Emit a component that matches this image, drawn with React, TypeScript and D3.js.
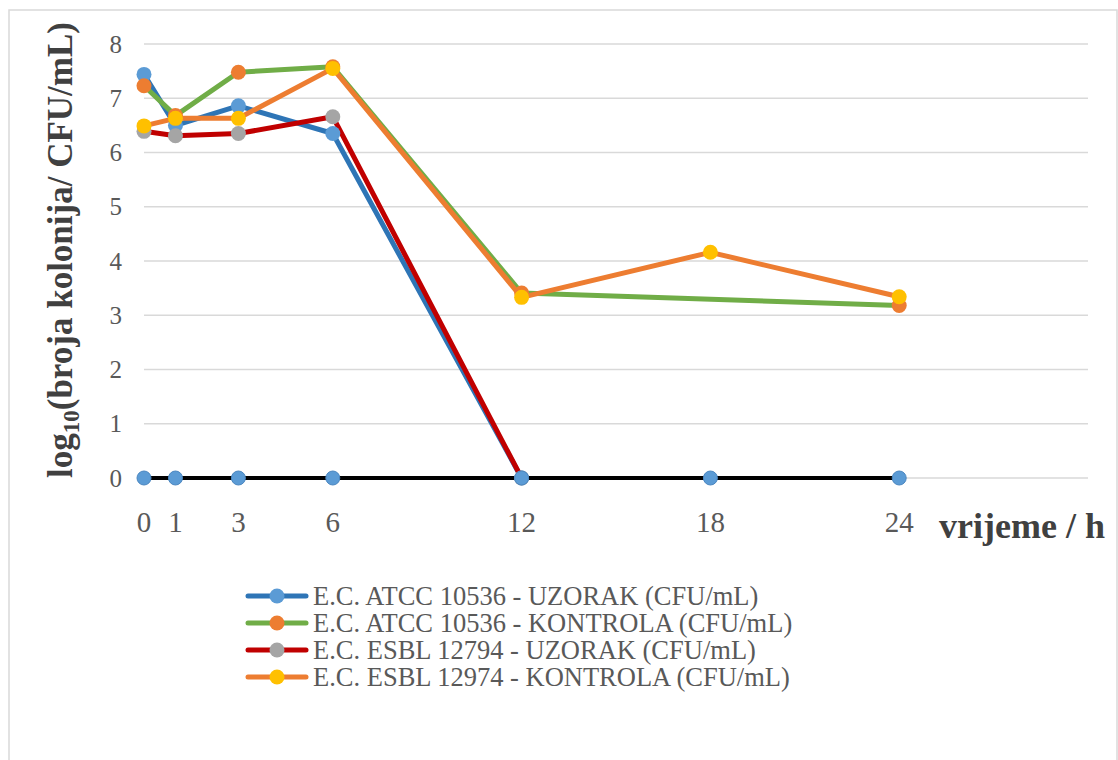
import React from "react";
import * as d3 from "d3";

const hours = [0, 1, 3, 6, 12, 18, 24];
const yTicks = [0, 1, 2, 3, 4, 5, 6, 7, 8];

const atccUzorakX = [0, 1, 3, 6, 12];
const atccUzorakY = [7.44, 6.5, 6.86, 6.35, 0];
const atccKontrolaX = [0, 1, 3, 6, 12, 24];
const atccKontrolaY = [7.23, 6.68, 7.48, 7.58, 3.41, 3.18];
const esblUzorakX = [0, 1, 3, 6, 12];
const esblUzorakY = [6.39, 6.31, 6.35, 6.66, 0];
const esblKontrolaX = [0, 1, 3, 6, 12, 18, 24];
const esblKontrolaY = [6.49, 6.63, 6.63, 7.55, 3.33, 4.16, 3.34];
const baselineX = [0, 1, 3, 6, 12, 18, 24];
const baselineY = [0, 0, 0, 0, 0, 0, 0];

const seriesNames = [
  "E.C. ATCC 10536 - UZORAK (CFU/mL)",
  "E.C. ATCC 10536 - KONTROLA (CFU/mL)",
  "E.C. ESBL 12794 - UZORAK (CFU/mL)",
  "E.C. ESBL 12974 - KONTROLA (CFU/mL)",
];

const series = [
  { name: seriesNames[0], xs: atccUzorakX, ys: atccUzorakY, line: "#2e75b6", marker: "#5b9bd5" },
  { name: seriesNames[1], xs: atccKontrolaX, ys: atccKontrolaY, line: "#70ad47", marker: "#ed7d31" },
  { name: seriesNames[2], xs: esblUzorakX, ys: esblUzorakY, line: "#c00000", marker: "#a5a5a5" },
  { name: seriesNames[3], xs: esblKontrolaX, ys: esblKontrolaY, line: "#ed7d31", marker: "#ffc000" },
];

export default function App() {
  const W = 1118, H = 760;
  const x = d3.scaleLinear().domain([0, 30]).range([144, 1088]);
  const y = d3.scaleLinear().domain([0, 8]).range([478, 44]);
  const line = d3.line<[number, number]>().x((d) => x(d[0])).y((d) => y(d[1]));
  const font = "Liberation Serif";
  const tickColor = "#595959";

  const pts = (xs: number[], ys: number[]) => xs.map((v, i) => [v, ys[i]] as [number, number]);

  return (
    <svg width={W} height={H} style={{ position: "absolute", left: 0, top: 0, background: "#fff" }}>
      <rect x={9} y={10} width={1108} height={760} fill="#fff" stroke="#d9d9d9" strokeWidth={1.5} />
      {yTicks.map((t) => (
        <g key={t}>
          <line x1={x(0)} x2={x(30)} y1={y(t)} y2={y(t)} stroke="#d9d9d9" strokeWidth={1.5} />
          <text x={122} y={y(t) + 8.5} textAnchor="end" style={{ fontFamily: font }} fontSize={25} fill={tickColor}>
            {t}
          </text>
        </g>
      ))}
      {hours.map((h) => (
        <text key={h} x={x(h)} y={532} textAnchor="middle" style={{ fontFamily: font }} fontSize={29} fill={tickColor}>
          {h}
        </text>
      ))}
      <text x={1105} y={538} textAnchor="end" style={{ fontFamily: font }} fontSize={36} fontWeight="bold" fill="#404040">
        vrijeme / h
      </text>
      <text
        transform={`translate(72, 250) rotate(-90)`}
        textAnchor="middle"
        style={{ fontFamily: font }}
        fontSize={35}
        fontWeight="bold"
        fill="#404040"
      >
        log<tspan fontSize={23} dy={7}>10</tspan>
        <tspan dy={-7}>(broja kolonija/ CFU/mL)</tspan>
      </text>

      <path d={line(pts(baselineX, baselineY)) || ""} fill="none" stroke="#000" strokeWidth={4} />

      {series.map((s) => (
        <path key={s.name} d={line(pts(s.xs, s.ys)) || ""} fill="none" stroke={s.line} strokeWidth={5} strokeLinejoin="round" />
      ))}
      {series.map((s) =>
        pts(s.xs, s.ys).map((p, i) => (
          <circle key={s.name + i} cx={x(p[0])} cy={y(p[1])} r={7.5} fill={s.marker} />
        ))
      )}
      {pts(baselineX, baselineY).map((p, i) => (
        <circle key={"b" + i} cx={x(p[0])} cy={y(p[1])} r={7} fill="#5b9bd5" stroke="#4a86c0" strokeWidth={1} />
      ))}

      {series.map((s, i) => {
        const cy = 596 + i * 27;
        return (
          <g key={"l" + i}>
            <line x1={248} x2={306} y1={cy} y2={cy} stroke={s.line} strokeWidth={5} strokeLinecap="round" />
            <circle cx={277} cy={cy} r={7.5} fill={s.marker} />
            <text x={313} y={cy + 9} style={{ fontFamily: font }} fontSize={26.5} fill={tickColor}>
              {s.name}
            </text>
          </g>
        );
      })}
    </svg>
  );
}
